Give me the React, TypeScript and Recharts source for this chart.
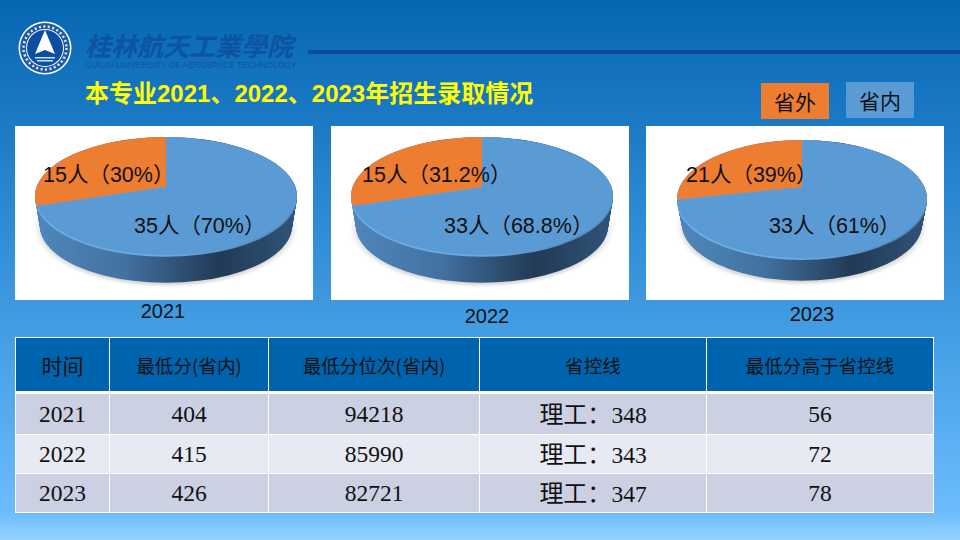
import { Cell, Pie, PieChart } from "recharts";

// slice sizes as drawn in the picture; the printed labels are kept separately
// (the drawn slices are not exactly to scale with their labels, 2023 least of all)
const years = ["2021", "2022", "2023"];
const outsideShare = [30, 30, 28.4];
const insideShare = [70, 70, 71.6];
const outsideLabels = ["15人（30%）", "15人（31.2%）", "21人（39%）"];
const insideLabels = ["35人（70%）", "33人（68.8%）", "33人（61%）"];

const tableHead = ["时间", "最低分(省内)", "最低分位次(省内)", "省控线", "最低分高于省控线"];
const minScore = [404, 415, 426];
const minRank = [94218, 85990, 82721];
const controlLine = [348, 343, 347];
const aboveLine = [56, 72, 78];

const ORANGE = "#ed7d31";
const BLUE = "#5b9bd5";
const SANS = '"Liberation Sans", "Noto Sans CJK SC", sans-serif';
const CJK = '"Noto Sans CJK SC", sans-serif';
const SERIF = '"Liberation Serif", "Noto Sans CJK SC", serif';

const boxes = [
  { left: 15, cx: 151, rx: 131, ry: 59, centerY: 70, apexY: 61, depth: 30, yearX: 163, yearY: 311, outX: 43, outY: 175, inX: 134, inY: 226 },
  { left: 331, cx: 151, rx: 131, ry: 59, centerY: 70, apexY: 61, depth: 30, yearX: 487, yearY: 316, outX: 362, outY: 175, inX: 444, inY: 226 },
  { left: 646, cx: 156, rx: 125, ry: 59, centerY: 73, apexY: 61, depth: 25, yearX: 812, yearY: 314, outX: 686, outY: 175, inX: 769, inY: 226 },
];

const BOX_W = 298;
const BOX_H = 174;
const NO_MARGIN = { top: 0, right: 0, bottom: 0, left: 0 };
const RIM_STEPS = Array.from({ length: 34 }, (_, i) => 33 - i);
const rimData = [{ name: "rim", value: 1 }];

function Pie3D({ index }: { index: number }) {
  const box = boxes[index];
  const scale = box.ry / box.rx;
  const chartH = BOX_H / scale;
  const centerY = box.centerY / scale;
  const depth = box.depth / scale;
  const sliceData = [
    { name: "省外", value: outsideShare[index] },
    { name: "省内", value: insideShare[index] },
  ];
  const rimId = `rim-${index}`;
  const edgeId = `edge-${index}`;
  const layer = {
    position: "absolute" as const,
    left: 0,
    top: 0,
    width: BOX_W,
    height: chartH,
    transform: `scaleY(${scale})`,
    transformOrigin: "top left",
  };

  return (
    <div
      style={{
        position: "absolute",
        left: box.left,
        top: 126,
        width: BOX_W,
        height: BOX_H,
        background: "#fff",
        overflow: "hidden",
      }}
    >
      {/* soft shadow below the pie */}
      <div style={{ ...layer, filter: "blur(3px)", opacity: 0.35 }}>
        <PieChart width={BOX_W} height={chartH} margin={NO_MARGIN}>
          <Pie
            data={rimData}
            dataKey="value"
            cx={box.cx}
            cy={centerY + depth + 5}
            outerRadius={box.rx - 4}
            startAngle={90}
            endAngle={450}
            stroke="none"
            fill="#8a8a8a"
            isAnimationActive={false}
          />
        </PieChart>
      </div>
      {/* side wall and the light edge along the top */}
      <div style={layer}>
        <PieChart width={BOX_W} height={chartH} margin={NO_MARGIN}>
          <defs>
            <linearGradient id={rimId} gradientUnits="userSpaceOnUse" x1={box.cx - box.rx} x2={box.cx + box.rx} y1={0} y2={0}>
              <stop offset="0" stopColor="#5187bd" />
              <stop offset="0.35" stopColor="#41719f" />
              <stop offset="0.7" stopColor="#223a55" />
              <stop offset="1" stopColor="#2f5478" />
            </linearGradient>
            <linearGradient id={edgeId} gradientUnits="userSpaceOnUse" x1={box.cx - box.rx} x2={box.cx + box.rx} y1={0} y2={0}>
              <stop offset="0" stopColor="#6fb0ec" />
              <stop offset="0.5" stopColor="#6aa8e2" />
              <stop offset="1" stopColor="#4d7fb0" />
            </linearGradient>
          </defs>
          {RIM_STEPS.map((step) => (
            <Pie
              key={step}
              data={rimData}
              dataKey="value"
              cx={box.cx}
              cy={centerY + (step * depth) / 33}
              outerRadius={box.rx - step * 0.15}
              startAngle={90}
              endAngle={450}
              stroke="none"
              fill={`url(#${rimId})`}
              isAnimationActive={false}
            />
          ))}
          <Pie
            data={rimData}
            dataKey="value"
            cx={box.cx}
            cy={centerY + 4}
            outerRadius={box.rx}
            startAngle={90}
            endAngle={450}
            stroke="none"
            fill={`url(#${edgeId})`}
            isAnimationActive={false}
          />
        </PieChart>
      </div>
      {/* top face: the apex sits above the ellipse centre, so the slices are clipped to it */}
      <div style={{ ...layer, clipPath: `circle(${box.rx}px at ${box.cx}px ${centerY}px)` }}>
        <PieChart width={BOX_W} height={chartH} margin={NO_MARGIN}>
          <Pie
            data={sliceData}
            dataKey="value"
            cx={box.cx}
            cy={box.apexY / scale}
            outerRadius={280}
            startAngle={90}
            endAngle={450}
            stroke="none"
            isAnimationActive={false}
          >
            <Cell fill={ORANGE} />
            <Cell fill={BLUE} />
          </Pie>
        </PieChart>
      </div>
    </div>
  );
}

function Swatch({ left, top, color, text }: { left: number; top: number; color: string; text: string }) {
  return (
    <div
      style={{
        position: "absolute",
        left,
        top,
        width: 68,
        height: 36,
        background: color,
        color: "#111",
        fontFamily: CJK,
        fontSize: 21,
        lineHeight: "36px",
        textAlign: "center",
      }}
    >
      {text}
    </div>
  );
}

function Label({ x, y, text, size, center }: { x: number; y: number; text: string; size: number; center?: boolean }) {
  return (
    <div
      style={{
        position: "absolute",
        left: x,
        top: y - 15,
        height: 30,
        lineHeight: "30px",
        fontFamily: SANS,
        fontSize: size,
        color: "#111",
        whiteSpace: "nowrap",
        transform: center ? "translateX(-50%)" : undefined,
      }}
    >
      {text}
    </div>
  );
}

const colWidths = [94, 159, 211, 227, 227];
const rowHeights = [42, 39, 39];

function DataTable() {
  const cell = {
    border: "1px solid #fff",
    padding: 0,
    textAlign: "center" as const,
    color: "#111",
    lineHeight: "30px",
  };
  return (
    <table
      style={{
        position: "absolute",
        left: 15,
        top: 337,
        width: 918,
        borderCollapse: "collapse",
        tableLayout: "fixed",
      }}
    >
      <colgroup>
        {colWidths.map((w, i) => (
          <col key={i} style={{ width: w }} />
        ))}
      </colgroup>
      <thead>
        <tr style={{ height: 55 }}>
          {tableHead.map((h, i) => (
            <th
              key={h}
              style={{
                ...cell,
                background: "#0063ae",
                borderBottomWidth: 3,
                fontFamily: CJK,
                fontWeight: 400,
                fontSize: i === 0 ? 21 : 18.6,
              }}
            >
              {h}
            </th>
          ))}
        </tr>
      </thead>
      <tbody>
        {years.map((year, r) => (
          <tr
            key={year}
            style={{
              height: rowHeights[r],
              background: r === 1 ? "#e7e9f3" : "#cbd0e3",
              fontFamily: SERIF,
              fontSize: 23.5,
            }}
          >
            <td style={cell}>{year}</td>
            <td style={cell}>{minScore[r]}</td>
            <td style={cell}>{minRank[r]}</td>
            <td style={cell}>
              <span style={{ fontFamily: CJK, fontSize: 24 }}>理工：</span>
              {controlLine[r]}
            </td>
            <td style={cell}>{aboveLine[r]}</td>
          </tr>
        ))}
      </tbody>
    </table>
  );
}

function Logo() {
  return (
    <svg width={54} height={54} style={{ position: "absolute", left: 18, top: 21 }} viewBox="0 0 54 54">
      <circle cx={27} cy={27} r={26.5} fill="#fff" />
      <circle cx={27} cy={27} r={25} fill="#1c5aa8" />
      <circle cx={27} cy={27} r={21.5} fill="none" stroke="#dfe9f6" strokeWidth={2.5} strokeDasharray="2 2.5" />
      <circle cx={27} cy={27} r={19} fill="#fff" />
      <circle cx={27} cy={27} r={18} fill="#0c4ea2" />
      <polygon points="27,9 37,33 27,29 17,33" fill="#fff" />
      <rect x={17} y={36} width={20} height={1.5} fill="#cfe0f5" />
      <rect x={19} y={39} width={16} height={1.5} fill="#cfe0f5" />
    </svg>
  );
}

export default function App() {
  return (
    <div
      style={{
        position: "absolute",
        left: 0,
        top: 0,
        width: 960,
        height: 540,
        overflow: "hidden",
        background:
          "linear-gradient(180deg, #0566b2 0%, #1f7dc8 26%, #439de3 61%, #6cbcfd 95%, #96d3ff 100%)",
      }}
    >
      <Logo />
      <div
        style={{
          position: "absolute",
          left: 85,
          top: 30,
          fontFamily: CJK,
          fontWeight: 700,
          fontStyle: "italic",
          fontSize: 26,
          lineHeight: "30px",
          color: "#0d539f",
          whiteSpace: "nowrap",
        }}
      >
        桂林航天工業學院
      </div>
      <div
        style={{
          position: "absolute",
          left: 85,
          top: 60,
          fontFamily: SANS,
          fontSize: 8.5,
          lineHeight: "10px",
          color: "#0f559f",
          whiteSpace: "nowrap",
        }}
      >
        GUILIN UNIVERSITY OF AEROSPACE TECHNOLOGY
      </div>
      <div style={{ position: "absolute", left: 308, top: 50, width: 652, height: 4, background: "#0a4a9e" }} />
      <div
        style={{
          position: "absolute",
          left: 85,
          top: 78,
          fontFamily: SANS,
          fontWeight: 700,
          fontSize: 24,
          lineHeight: "32px",
          color: "#ffff00",
          whiteSpace: "nowrap",
        }}
      >
        本专业2021、2022、2023年招生录取情况
      </div>
      <Swatch left={761} top={83} color={ORANGE} text="省外" />
      <Swatch left={846} top={82} color={BLUE} text="省内" />
      {years.map((year, i) => (
        <Pie3D key={year} index={i} />
      ))}
      {years.map((year, i) => (
        <div key={year}>
          <Label x={boxes[i].outX} y={boxes[i].outY} text={outsideLabels[i]} size={21.5} />
          <Label x={boxes[i].inX} y={boxes[i].inY} text={insideLabels[i]} size={21.5} />
          <Label x={boxes[i].yearX} y={boxes[i].yearY} text={year} size={20} center />
        </div>
      ))}
      <DataTable />
    </div>
  );
}
